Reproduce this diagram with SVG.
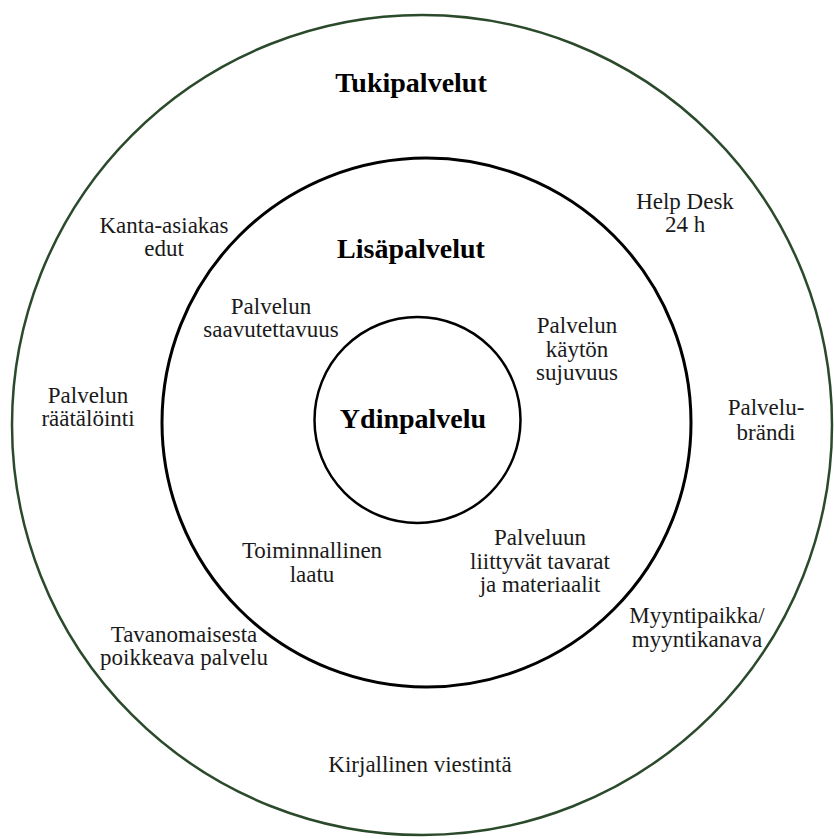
<svg xmlns="http://www.w3.org/2000/svg" width="834" height="839" viewBox="0 0 834 839">
<style>
.t{font-family:"Liberation Serif","Times New Roman",serif;font-size:23px;fill:#1a1a1a;text-anchor:middle}
.b{font-family:"Liberation Serif","Times New Roman",serif;font-size:28px;font-weight:bold;fill:#000;text-anchor:middle}
.ring{fill:none}
</style>
<rect width="834" height="839" fill="#fff"/>
<g id="outer">
<circle class="ring" cx="422" cy="425" r="410" stroke="#2b4a2b" stroke-width="2.5"/>
<text class="b" x="411" y="92">Tukipalvelut</text>
</g>
<g id="middle">
<circle class="ring" cx="426.5" cy="422.5" r="264.5" stroke="#000" stroke-width="3"/>
<text class="b" x="411" y="258">Lisäpalvelut</text>
</g>
<g id="core">
<circle class="ring" cx="417.5" cy="420" r="103" stroke="#000" stroke-width="2.5"/>
<text class="b" x="413" y="428">Ydinpalvelu</text>
</g>
<g id="kanta"><text class="t" x="164" y="233">Kanta-asiakas</text><text class="t" x="164" y="256">edut</text></g>
<g id="helpdesk"><text class="t" x="685" y="209">Help Desk</text><text class="t" x="685" y="232">24 h</text></g>
<g id="saavutettavuus"><text class="t" x="271" y="314">Palvelun</text><text class="t" x="271" y="337">saavutettavuus</text></g>
<g id="sujuvuus"><text class="t" x="577" y="333">Palvelun</text><text class="t" x="577" y="357">käytön</text><text class="t" x="577" y="380">sujuvuus</text></g>
<g id="raatalointi"><text class="t" x="88" y="403">Palvelun</text><text class="t" x="88" y="426">räätälöinti</text></g>
<g id="brandi"><text class="t" x="766" y="415">Palvelu-</text><text class="t" x="766" y="440">brändi</text></g>
<g id="laatu"><text class="t" x="312" y="558">Toiminnallinen</text><text class="t" x="312" y="582">laatu</text></g>
<g id="tavarat"><text class="t" x="540" y="545">Palveluun</text><text class="t" x="540" y="569">liittyvät tavarat</text><text class="t" x="540" y="592">ja materiaalit</text></g>
<g id="myyntipaikka"><text class="t" x="697" y="623">Myyntipaikka/</text><text class="t" x="697" y="647">myyntikanava</text></g>
<g id="poikkeava"><text class="t" x="184" y="642">Tavanomaisesta</text><text class="t" x="184" y="665">poikkeava palvelu</text></g>
<g id="viestinta"><text class="t" x="420" y="772">Kirjallinen viestintä</text></g>
<g id="connectors"></g>
</svg>
